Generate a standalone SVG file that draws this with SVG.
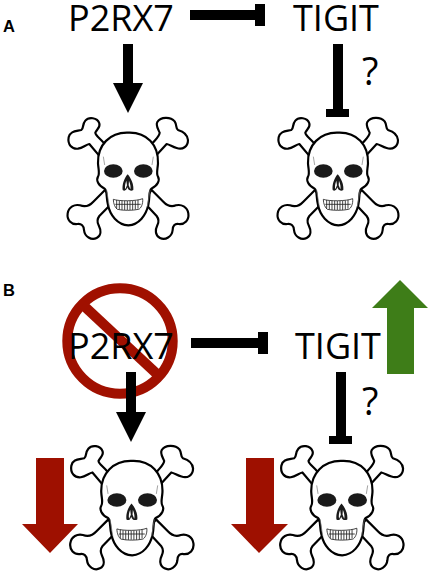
<svg xmlns="http://www.w3.org/2000/svg" width="431" height="571" viewBox="0 0 431 571">
<style>
.t{font-family:"Open Sans",sans-serif;font-size:36px;fill:#000}
.q{font-family:"Open Sans",sans-serif;font-size:38px;fill:#000}
.l{font-family:"Liberation Sans",sans-serif;font-size:16.5px;font-weight:bold;fill:#000}
.o{fill:#fff;stroke:#000;stroke-width:6.5;stroke-linejoin:round}
.f{fill:#1a1a1a}
.th{fill:none;stroke:#222;stroke-width:2.5}
.g{fill:none;stroke:#777;stroke-width:2}
</style>
<defs>
<g id="skull" transform="translate(60 110) scale(.3333)">
<path class="o" d="M130 97C120 85 106 76 106 68C110 58 122 52 118 40C112 22 86 20 76 32C66 44 72 54 64 60C50 64 30 62 26 82C22 104 36 118 54 116C68 114 78 104 88 102L120 140L170 100Z"/>
<path class="o" d="M280 97C290 85 299 76 299 68C295 58 286 46 292 36C302 20 332 20 344 34C352 46 346 54 354 60C368 64 382 70 384 90C384 110 368 120 350 114C336 110 330 104 320 102L285 140L240 100Z"/>
<path class="o" d="M135 240L100 275C90 286 76 292 60 286C44 282 26 290 23 310C20 330 34 344 52 342C64 340 72 348 72 360C74 380 94 392 110 384C126 376 122 358 116 346C110 334 112 326 118 318L160 275Z"/>
<path class="o" d="M275 240L310 275C320 286 332 292 348 286C364 282 382 290 385 310C388 330 374 344 356 342C344 340 338 348 338 360C336 380 316 392 300 384C284 376 286 358 292 346C298 334 296 326 290 318L250 275Z"/>
<path class="o" d="M205 68C150 66 112 105 114 160C115 178 120 192 114 200C108 210 114 226 134 236C142 240 138 262 144 285C150 315 172 344 205 346C238 344 258 315 265 285C270 262 266 240 274 236C294 226 300 210 294 200C288 192 293 178 294 160C296 105 260 66 205 68Z"/>
<ellipse class="f" cx="160" cy="183" rx="28" ry="20"/>
<ellipse class="f" cx="250" cy="183" rx="28" ry="20"/>
<path class="f" d="M203 193C192 205 186 225 188 240C194 245 200 240 202 232C204 240 212 245 220 240C222 225 214 205 203 193Z"/>
<path fill="#fff" d="M199 212C195 222 194 232 196 238L201 226ZM207 212C211 222 213 232 211 238L206 226Z"/>
<path class="th" d="M160 268C176 274 230 274 248 266C250 282 242 296 236 298C218 302 188 302 172 298C166 294 160 282 160 268Z"/>
<path class="th" d="M166 283H242M170 270V296M178 272V298M186 273V300M194 273V300M202 273V300M210 273V300M218 273V300M226 272V298M234 270V296"/>
<path class="g" d="M130 140L134 165M280 140L276 165M140 240L148 290M270 240L262 290"/>
</g>
</defs>
<g id="label-a"><text class="l" x="3" y="32">A</text></g>
<g id="label-b"><text class="l" x="3" y="296">B</text></g>
<g id="prohibition">
<circle cx="120" cy="341" r="52.7" fill="none" stroke="#a01000" stroke-width="10"/>
<path d="M83 305L158 375" stroke="#a01000" stroke-width="10" fill="none"/>
</g>
<g id="a-p2rx7"><text class="t" x="68" y="31">P2RX7</text></g>
<g id="a-tigit"><text class="t" x="293" y="31">TIGIT</text></g>
<g id="b-p2rx7"><text class="t" x="68" y="359">P2RX7</text></g>
<g id="b-tigit"><text class="t" x="295" y="359">TIGIT</text></g>
<g id="a-skull-left"><use href="#skull"/></g>
<g id="a-skull-right"><use href="#skull" x="210"/></g>
<g id="b-skull-left"><use href="#skull" transform="translate(1.3 325.6) scale(1.02)"/></g>
<g id="b-skull-right"><use href="#skull" transform="translate(211.3 325.6) scale(1.02)"/></g>
<g id="connectors" fill="#000">
<path d="M123 44H133V83H143L128 113L113 83H123Z"/>
<path d="M190 10H255V4H265V26H255V20H190Z"/>
<path d="M333 44H343V109H349V117H326V109H333Z"/>
<path d="M126 372H136V412H146L131 442L116 412H126Z"/>
<path d="M191 338H258V332H268V354H258V348H191Z"/>
<path d="M336 372H346V436H352V444H329V436H336Z"/>
</g>
<g id="q-a"><text class="q" x="362" y="85">?</text></g>
<g id="q-b"><text class="q" x="362" y="415">?</text></g>
<g id="trend-arrows">
<path id="down-left" fill="#9e1000" d="M36 458H64V524H78L50 553L22 524H36Z"/>
<path id="down-right" fill="#9e1000" d="M246 458H274V524H288L259 553L231 524H246Z"/>
<path id="up" fill="#3e7d18" d="M400 280L428 308H414V374H387V308H372Z"/>
</g>
</svg>
